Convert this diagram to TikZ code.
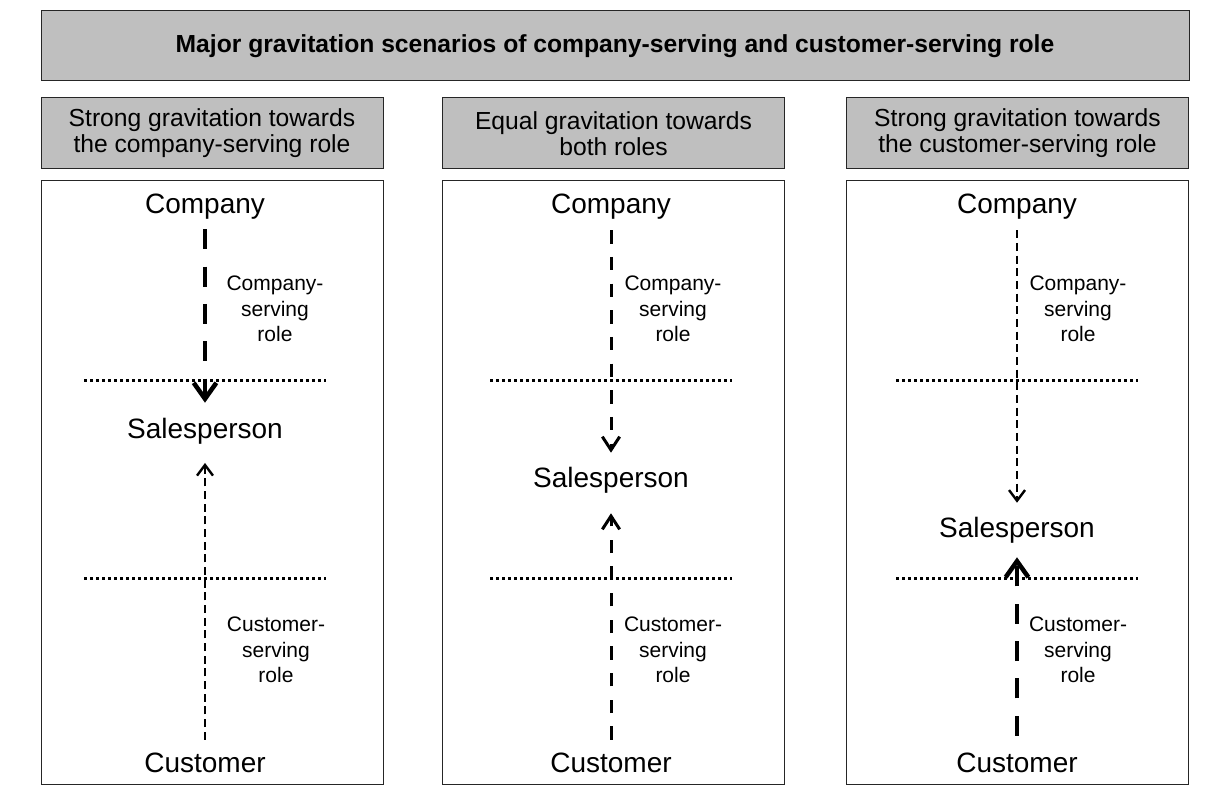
\documentclass[tikz,border=0pt]{standalone}
\usepackage{fontspec}
\setmainfont{Liberation Sans}
\usetikzlibrary{arrows.meta,positioning}

\begin{document}
\begin{tikzpicture}[x=0.75pt,y=-0.75pt,
  banner/.style={draw=black!85,line width=0.75pt,fill=black!25,inner sep=0pt,align=center},
  frame/.style={draw=black!85,line width=0.75pt,fill=white,minimum width=256.5pt,minimum height=452.25pt},
  actor/.style={font=\fontsize{21}{25}\selectfont,inner sep=0pt,text height=15pt,text depth=4.5pt},
  rolelabel/.style={font=\fontsize{15.75}{19}\selectfont,align=center,inner sep=0pt},
  border/.style={line width=2.25pt,dash pattern=on 2.25pt off 2.25pt},
  strong/.style={line width=3.4pt,dash pattern=on 15pt off 13pt,-{Straight Barb[length=12pt,width=17pt]}},
  medium/.style={line width=2.25pt,dash pattern=on 10pt off 10pt,-{Straight Barb[length=10pt,width=13pt]}},
  weak/.style={line width=1.8pt,dash pattern=on 6pt off 3.5pt,-{Straight Barb[length=8pt,width=12pt]}}]
  \useasboundingbox (0,0) rectangle (1209,798);

  \node[banner,minimum width=861pt,minimum height=52.5pt,font=\fontsize{18.5}{22}\selectfont\bfseries] (title) at (615,46) {Major gravitation scenarios of company-serving and customer-serving role};
  \node[banner,minimum width=256.5pt,minimum height=53.25pt,font=\fontsize{18.5}{19.5}\selectfont] (headL) at (212,133.5) {Strong gravitation towards\\the company-serving role};
  \node[banner,minimum width=256.5pt,minimum height=53.25pt,font=\fontsize{18.5}{19.5}\selectfont] (headM) at (613.5,133.5) {Equal gravitation towards\\both roles};
  \node[banner,minimum width=256.5pt,minimum height=53.25pt,font=\fontsize{18.5}{19.5}\selectfont] (headR) at (1017.5,133.5) {Strong gravitation towards\\the customer-serving role};
  \node[frame,below=8.25pt of headL] (frameL) {};
  \node[frame,below=8.25pt of headM] (frameM) {};
  \node[frame,below=8.25pt of headR] (frameR) {};

  \node[actor] (compL) at (205,207) {Company};
  \node[actor] (salesL) at (205,431) {Salesperson};
  \node[actor] (custL) at (205,765) {Customer};
  \node[rolelabel] (cslabL) at (275,309) {Company-\\serving\\role};
  \node[rolelabel] (culabL) at (276,650) {Customer-\\serving\\role};
  \draw[border] (84,380) -- (326,380);
  \draw[border] (84,578) -- (326,578);
  \draw[strong,shorten <=6.75pt,shorten >=11.25pt] (compL) -- (salesL);
  \draw[weak,shorten <=9pt,shorten >=14pt] (custL) -- (salesL);

  \node[actor] (compM) at (611,207) {Company};
  \node[actor] (salesM) at (611,480) {Salesperson};
  \node[actor] (custM) at (611,765) {Customer};
  \node[rolelabel] (cslabM) at (673,309) {Company-\\serving\\role};
  \node[rolelabel] (culabM) at (673,650) {Customer-\\serving\\role};
  \draw[border] (490,380) -- (732,380);
  \draw[border] (490,578) -- (732,578);
  \draw[medium,shorten <=7.5pt,shorten >=10.5pt] (compM) -- (salesM);
  \draw[medium,shorten <=9pt,shorten >=15pt] (custM) -- (salesM);

  \node[actor] (compR) at (1017,207) {Company};
  \node[actor] (salesR) at (1017,530) {Salesperson};
  \node[actor] (custR) at (1017,765) {Customer};
  \node[rolelabel] (cslabR) at (1078,309) {Company-\\serving\\role};
  \node[rolelabel] (culabR) at (1078,650) {Customer-\\serving\\role};
  \draw[border] (896,380) -- (1138,380);
  \draw[border] (896,578) -- (1138,578);
  \draw[weak,shorten <=7.5pt,shorten >=10.5pt] (compR) -- (salesR);
  \draw[strong,shorten <=12pt,shorten >=10.5pt] (custR) -- (salesR);
\end{tikzpicture}
\end{document}
